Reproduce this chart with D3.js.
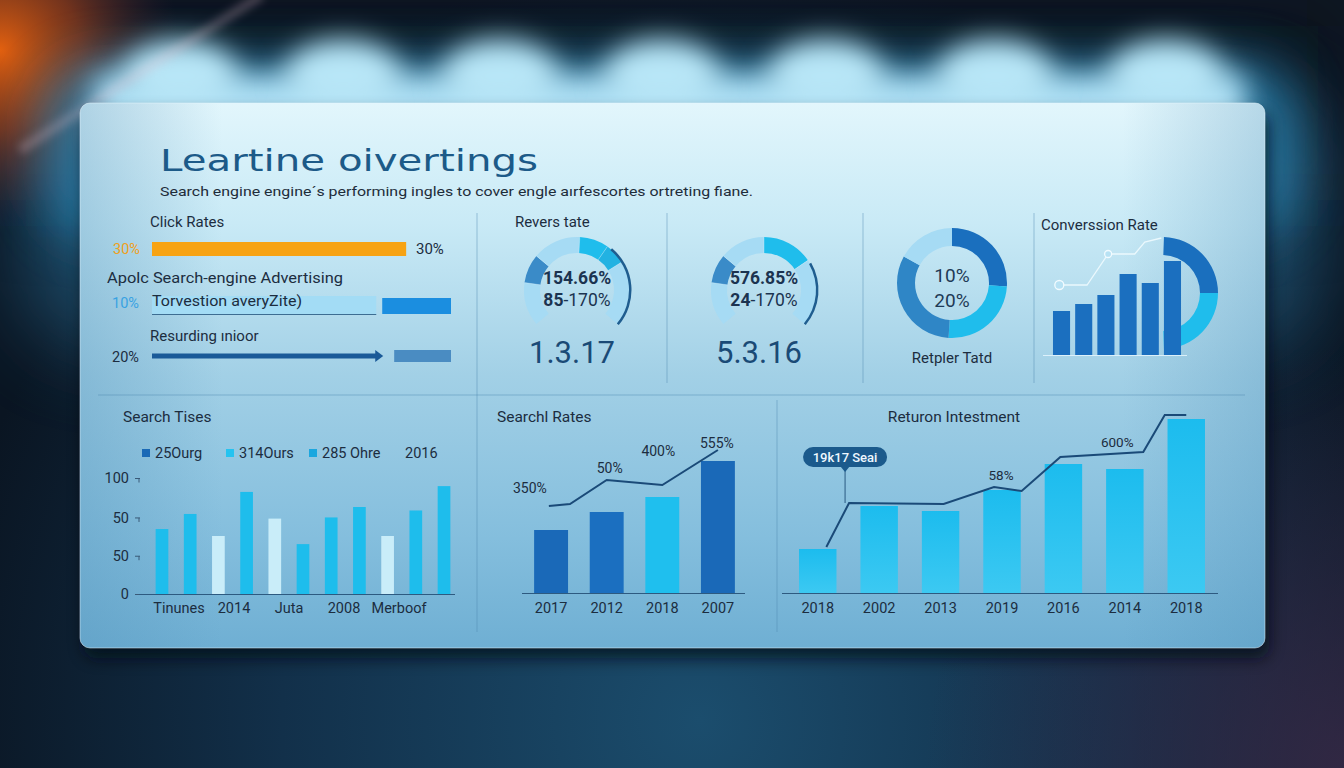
<!DOCTYPE html>
<html><head><meta charset="utf-8">
<script src="https://cdn.jsdelivr.net/npm/d3@7"></script>
<style>html,body{margin:0;padding:0;background:#0b1624;overflow:hidden}svg{display:block}</style>
</head><body>
<script>
// ---------------- DATA ----------------
const titleText = "Leartine oivertings";
const subtitleText = "Search engine engine´s performing ingles to cover engle aırfescortes ortreting fiane.";

// Click rates panel
const clickHeads = ["Click Rates", "Apolc Search-engine Advertising", "Resurding ınioor"];
const clickPctLeft = ["30%", "10%", "20%"];
const clickFill = [85, 75, 77];          // % of track filled by main bar
const clickBlockFrom = [null, 77, 81];   // % of track where the end block starts
const clickInner = "Torvestion averyZite)";
const clickPctRight = "30%";

// Gauges
const gaugeTitles = ["Revers tate", null];
const gaugeMain = ["154.66%", "576.85%"];
const gaugeLowBold = ["85", "24"];
const gaugeLowRest = ["-170%", "-170%"];
const gaugeBig = ["1.3.17", "5.3.16"];
const gauge1Breaks = [-130, -82, -50, 3, 35, 58, 130];
const gauge1Tones = ["light", "dark", "light", "cyan", "cyan2", "light"];
const gauge2Breaks = [-130, -82, -50, 0, 56, 130];
const gauge2Tones = ["light", "dark", "light", "cyan", "light"];

// Ring donut
const ringValues = [26, 25, 32, 17];
const ringTones = ["deep", "cyan", "mid", "light"];
const ringLabels = ["10%", "20%"];
const ringCaption = "Retpler Tatd";

// Conversion
const convTitle = "Converssion Rate";
const convBars = [44, 51, 60, 81, 72, 94];
const convLineX = [-0.1, 1.15, 2.1, 3.3, 3.75, 4.5];
const convLineY = [70, 70, 101, 101, 113, 117];
const convHalf = [50, 50];

// Search Tises
const stTitle = "Search Tises";
const stLegend = ["25Ourg", "314Ours", "285 Ohre", "2016"];
const stValues = [56, 69, 50, 88, 65, 43, 66, 75, 50, 72, 93];
const stTypes = ["c", "c", "p", "c", "p", "c", "c", "c", "p", "c", "c"];
const stTickVals = [0, 33, 66, 100];
const stTickLabels = ["0", "50", "50", "100"];
const stXLabels = ["Tinunes", "2014", "Juta", "2008", "Merboof"];

// Search Rates
const srTitle = "Searchl Rates";
const srCats = ["2017", "2012", "2018", "2007"];
const srValues = [63, 81, 96, 132];
const srTones = ["dark", "dark", "cyan", "dark"];
const srLineX = [-0.04, 0.34, 1, 2, 3];
const srLineY = [87, 89, 113, 108, 143];
const srLabels = ["350%", "50%", "400%", "555%"];

// Return on investment
const roiTitle = "Returon Intestment";
const roiCats = ["2018", "2002", "2013", "2019", "2016", "2014", "2018"];
const roiValues = [44, 87, 82, 103, 129, 124, 174];
const roiLineX = [0.14, 0.51, 2.05, 2.87, 3.32, 3.95, 5.3, 5.65, 6.0];
const roiLineY = [46, 90, 89, 106, 102, 136, 141, 178, 178];
const roiLabels = ["58%", "600%"];
const roiTip = "19k17 Seai";

// ---------------- DRAW ----------------
const W = 1344, H = 768;
const FONT = "Roboto, 'Liberation Sans', sans-serif";
const DARK = "#1c2d3f";
const COL = {light:"#a6dbf4", dark:"#3a8bc8", cyan:"#1fbdec", cyan2:"#22b2e2", deep:"#1a6fbe", mid:"#2f86c6"};

const svg = d3.select("body").append("svg").attr("width", W).attr("height", H);
const defs = svg.append("defs");

function lin(id, stops, x2 = 0, y2 = 1) {
  const g = defs.append("linearGradient").attr("id", id).attr("x1", 0).attr("y1", 0).attr("x2", x2).attr("y2", y2);
  stops.forEach(s => g.append("stop").attr("offset", s[0]).attr("stop-color", s[1]).attr("stop-opacity", s[2] == null ? 1 : s[2]));
}
function rad(id, cx, cy, r, stops) {
  const g = defs.append("radialGradient").attr("id", id).attr("gradientUnits", "userSpaceOnUse")
    .attr("cx", cx).attr("cy", cy).attr("r", r);
  stops.forEach(s => g.append("stop").attr("offset", s[0]).attr("stop-color", s[1]).attr("stop-opacity", s[2] == null ? 1 : s[2]));
}
function blur(id, sd) {
  defs.append("filter").attr("id", id).attr("x", "-50%").attr("y", "-50%").attr("width", "200%").attr("height", "200%")
    .append("feGaussianBlur").attr("stdDeviation", sd);
}
blur("b8", 8); blur("b14", 14); blur("b25", 25); blur("b40", 40); blur("b4", 4);

rad("bgRad", 700, 720, 760, [[0, "#1b4d6d"], [0.55, "#12304a"], [1, "#0a1522"]]);
rad("orange", 0, 50, 180, [[0, "#e2600f"], [0.45, "#8a3a1c", 0.8], [1, "#3a2030", 0]]);
rad("purple", 1344, 768, 420, [[0, "#3a2a48", 0.8], [1, "#3a2a48", 0]]);
lin("panelGrad", [[0, "#e2f6fc"], [0.22, "#c9eaf6"], [0.5, "#a2d0e6"], [0.8, "#84bedd"], [1, "#6fafd3"]]);
lin("panelSide", [[0, "#4f90b8", 0.35], [0.12, "#4f90b8", 0], [0.88, "#4f90b8", 0], [1, "#4f90b8", 0.3]], 1, 0);
lin("roiBar", [[0, "#1cbcee"], [1, "#3cc9f2"]]);

// background
svg.append("rect").attr("width", W).attr("height", H).attr("fill", "url(#bgRad)");
svg.append("rect").attr("width", W).attr("height", 200).attr("fill", "#08121d").attr("opacity", 0.55).attr("filter", "url(#b40)");
svg.append("rect").attr("width", W).attr("height", H).attr("fill", "url(#purple)");
// side halo around panel
svg.append("rect").attr("x", 20).attr("y", 90).attr("width", 1300).attr("height", 260).attr("rx", 80)
  .attr("fill", "#2c6f98").attr("opacity", 0.55).attr("filter", "url(#b40)");
svg.append("rect").attr("width", 400).attr("height", 260).attr("fill", "url(#orange)");
// glow behind panel top
const glow = svg.append("g");
glow.append("rect").attr("x", 40).attr("y", 60).attr("width", 1260).attr("height", 180).attr("rx", 60)
  .attr("fill", "#2a88b8").attr("opacity", 0.7).attr("filter", "url(#b25)");
glow.append("rect").attr("x", 95).attr("y", 75).attr("width", 1150).attr("height", 60)
  .attr("fill", "#aee0f5").attr("filter", "url(#b14)");
[180, 343, 500, 662, 826, 995, 1166].forEach(px => {
  glow.append("ellipse").attr("cx", px).attr("cy", 76).attr("rx", 58).attr("ry", 36)
    .attr("fill", "#b8e6f7").attr("filter", "url(#b14)");
});
svg.append("line").attr("x1", 262).attr("y1", -5).attr("x2", 20).attr("y2", 150)
  .attr("stroke", "#e6c2d2").attr("stroke-width", 9).attr("opacity", 0.28).attr("filter", "url(#b4)");

// panel
const P = {x: 80, y: 103, w: 1185, h: 545};
svg.append("rect").attr("x", P.x + 4).attr("y", P.y + 10).attr("width", P.w).attr("height", P.h)
  .attr("rx", 12).attr("fill", "#050c16").attr("opacity", 0.75).attr("filter", "url(#b8)");
svg.append("rect").attr("x", P.x).attr("y", P.y).attr("width", P.w).attr("height", P.h).attr("rx", 10).attr("fill", "url(#panelGrad)");
svg.append("rect").attr("x", P.x).attr("y", P.y).attr("width", P.w).attr("height", P.h).attr("rx", 10).attr("fill", "url(#panelSide)");
svg.append("rect").attr("x", P.x).attr("y", P.y).attr("width", P.w).attr("height", P.h).attr("rx", 10)
  .attr("fill", "none").attr("stroke", "#e8f8ff").attr("stroke-opacity", 0.5);

function txt(x, y, s, o = {}) {
  const t = svg.append("text").attr("x", x).attr("y", y).text(s)
    .attr("font-family", o.family || FONT).attr("font-size", o.size || 15)
    .attr("fill", o.fill || DARK).attr("text-anchor", o.anchor || "start")
    .attr("dominant-baseline", "central").attr("font-weight", o.weight || "normal");
  if (o.len) t.attr("textLength", o.len).attr("lengthAdjust", "spacingAndGlyphs");
  return t;
}

// title
txt(160, 160, titleText, {size: 30, fill: "#1c5a88", family: "'DejaVu Sans', sans-serif", len: 378});
txt(160, 191, subtitleText, {size: 13.5, fill: "#1e2c3a", len: 593});

// dividers
const divC = "#4e86ad", divO = 0.45;
[[477, 213, 477, 632], [667, 213, 667, 383], [863, 213, 863, 383], [1034, 213, 1034, 383], [777, 400, 777, 632], [98, 395, 1245, 395]]
  .forEach(d => svg.append("line").attr("x1", d[0]).attr("y1", d[1]).attr("x2", d[2]).attr("y2", d[3])
    .attr("stroke", divC).attr("stroke-opacity", divO).attr("stroke-width", 1));

// ---------- Click rates ----------
const trackX = d3.scaleLinear().domain([0, 100]).range([152, 451]);
txt(150, 222, clickHeads[0], {size: 15});
txt(113, 249, clickPctLeft[0], {size: 14.5, fill: "#f0a020"});
svg.append("rect").attr("x", trackX(0)).attr("y", 242).attr("width", trackX(clickFill[0]) - trackX(0)).attr("height", 14).attr("fill", "#f7a313");
txt(416, 249, clickPctRight, {size: 15});

txt(107, 278, clickHeads[1], {size: 15.5, len: 236});
txt(112, 303, clickPctLeft[1], {size: 14.5, fill: "#38a2e2"});
svg.append("rect").attr("x", trackX(0)).attr("y", 296).attr("width", trackX(clickFill[1]) - trackX(0)).attr("height", 18).attr("fill", "#a3dcf5");
svg.append("line").attr("x1", trackX(0)).attr("x2", trackX(clickFill[1])).attr("y1", 314.5).attr("y2", 314.5).attr("stroke", "#3d6d92").attr("stroke-width", 1);
svg.append("rect").attr("x", trackX(clickBlockFrom[1])).attr("y", 298).attr("width", trackX(100) - trackX(clickBlockFrom[1])).attr("height", 16).attr("fill", "#1b8ee0");
txt(152, 301, clickInner, {size: 15.5, len: 150});

txt(150, 336, clickHeads[2], {size: 15});
txt(112, 357, clickPctLeft[2], {size: 14.5});
svg.append("rect").attr("x", trackX(0)).attr("y", 353.5).attr("width", trackX(clickFill[2]) - trackX(0) - 6).attr("height", 5).attr("fill", "#1a5a98");
svg.append("path").attr("d", `M${trackX(clickFill[2]) - 7},350 L${trackX(clickFill[2]) + 1},356 L${trackX(clickFill[2]) - 7},362 Z`).attr("fill", "#1a5a98");
svg.append("rect").attr("x", trackX(clickBlockFrom[2])).attr("y", 350).attr("width", trackX(100) - trackX(clickBlockFrom[2])).attr("height", 12).attr("fill", "#4a8cc2");

// ---------- Gauges ----------
const toRad = d => d * Math.PI / 180;
function gauge(cx, cy, breaks, tones, strokeFrom, idx) {
  const g = svg.append("g").attr("transform", `translate(${cx},${cy})`);
  const arc = d3.arc().innerRadius(37).outerRadius(53);
  for (let i = 0; i < tones.length; i++) {
    g.append("path").attr("d", arc({startAngle: toRad(breaks[i]), endAngle: toRad(breaks[i + 1])})).attr("fill", COL[tones[i]]);
  }
  for (let i = 1; i < breaks.length - 1; i++) {
    const a = toRad(breaks[i]);
    g.append("line").attr("x1", Math.sin(a) * 37).attr("y1", -Math.cos(a) * 37).attr("x2", Math.sin(a) * 53).attr("y2", -Math.cos(a) * 53)
      .attr("stroke", "#d8f2fc").attr("stroke-opacity", 0.35).attr("stroke-width", 1);
  }
  const thin = d3.arc().innerRadius(52).outerRadius(54.5);
  g.append("path").attr("d", thin({startAngle: toRad(strokeFrom), endAngle: toRad(breaks[breaks.length - 1])})).attr("fill", "#1f5d8f");
  txt(cx, cy - 12, gaugeMain[idx], {size: 17.5, weight: "bold", fill: "#1b3350", anchor: "middle"});
  const t2 = svg.append("text").attr("x", cx).attr("y", cy + 10).attr("text-anchor", "middle").attr("dominant-baseline", "central")
    .attr("font-family", FONT).attr("font-size", 17.5).attr("fill", "#1b3350");
  t2.append("tspan").attr("font-weight", "bold").text(gaugeLowBold[idx]);
  t2.append("tspan").text(gaugeLowRest[idx]);
  txt(cx - 5, cy + 62, gaugeBig[idx], {size: 31, fill: "#1a4a76", anchor: "middle"});
}
txt(515, 222, gaugeTitles[0], {size: 15});
gauge(577, 290, gauge1Breaks, gauge1Tones, 40, 0);
gauge(764, 290, gauge2Breaks, gauge2Tones, 60, 1);

// ---------- Ring ----------
{
  const cx = 952, cy = 283;
  const pie = d3.pie().sort(null).value(d => d)(ringValues);
  const arc = d3.arc().innerRadius(37).outerRadius(55);
  const g = svg.append("g").attr("transform", `translate(${cx},${cy})`);
  g.selectAll("path").data(pie).join("path").attr("d", arc).attr("fill", (d, i) => COL[ringTones[i]]);
  txt(cx, cy - 8, ringLabels[0], {size: 19, fill: "#1e3a56", anchor: "middle"});
  txt(cx, cy + 17, ringLabels[1], {size: 19, fill: "#1e3a56", anchor: "middle"});
  txt(cx, 358, ringCaption, {size: 15, anchor: "middle"});
}

// ---------- Conversion ----------
{
  txt(1041, 225, convTitle, {size: 15});
  const x = d3.scaleBand().domain(d3.range(convBars.length)).range([1043, 1191]).paddingInner(0.23).paddingOuter(0.45);
  const y = d3.scaleLinear().domain([0, 100]).range([355, 255]);
  const xl = d3.scaleLinear().domain([0, 5]).range([x(0) + x.bandwidth() / 2, x(5) + x.bandwidth() / 2]);
  const hp = d3.pie().sort(null).value(d => d).startAngle(toRad(2)).endAngle(toRad(178))(convHalf);
  const ha = d3.arc().innerRadius(38).outerRadius(56);
  svg.append("g").attr("transform", "translate(1162,293)").selectAll("path").data(hp).join("path")
    .attr("d", ha).attr("fill", (d, i) => i === 0 ? "#1a6fbe" : "#1fbdec");
  const pts = convLineX.map((v, i) => [xl(v), y(convLineY[i])]);
  svg.append("path").attr("d", d3.line()(pts)).attr("fill", "none").attr("stroke", "#f2fbff").attr("stroke-opacity", 0.85).attr("stroke-width", 1.3);
  [0, 2].forEach(i => svg.append("circle").attr("cx", pts[i][0]).attr("cy", pts[i][1]).attr("r", i === 0 ? 4.5 : 3.5)
    .attr("fill", "#b8e2f4").attr("stroke", "#f2fbff").attr("stroke-width", 1.3));
  svg.selectAll(null).data(convBars).join("rect").attr("x", (d, i) => x(i)).attr("width", x.bandwidth())
    .attr("y", d => y(d)).attr("height", d => y(0) - y(d)).attr("fill", "#1b6fbf");
  svg.append("line").attr("x1", 1043).attr("x2", 1187).attr("y1", 355.5).attr("y2", 355.5).attr("stroke", "#eaf8ff").attr("stroke-opacity", 0.8);
}

// ---------- Search Tises ----------
{
  txt(123, 417, stTitle, {size: 15.5});
  const legCols = ["#1a69b6", "#25c3f0", "#1ba7df", null];
  const legTextX = [155, 239, 322, 405];
  stLegend.forEach((s, i) => {
    if (legCols[i]) svg.append("rect").attr("x", [142, 226, 309, 0][i]).attr("y", 449).attr("width", 8).attr("height", 8).attr("fill", legCols[i]);
    txt(legTextX[i], 453, s, {size: 14.5});
  });
  const x = d3.scaleBand().domain(d3.range(stValues.length)).range([150, 456]).paddingInner(0.55).paddingOuter(0.2);
  const y = d3.scaleLinear().domain([0, 100]).range([594, 478]);
  svg.selectAll(null).data(stValues).join("rect").attr("x", (d, i) => x(i)).attr("width", x.bandwidth())
    .attr("y", d => y(d)).attr("height", d => y(0) - y(d))
    .attr("fill", (d, i) => stTypes[i] === "p" ? "#c9edf9" : "#1ebdec");
  const ax = svg.append("g").attr("transform", "translate(140,0)")
    .call(d3.axisLeft(y).tickValues(stTickVals).tickFormat((d, i) => stTickLabels[i]).tickSize(5).tickPadding(6));
  ax.select(".domain").remove();
  ax.selectAll(".tick line").attr("stroke", "#3a5a78");
  ax.selectAll(".tick").filter(d => d > 0).append("line").attr("x1", -1).attr("x2", -1).attr("y1", 0).attr("y2", 4).attr("stroke", "#3a5a78");
  ax.selectAll(".tick text").attr("font-family", FONT).attr("font-size", 14.5).attr("fill", DARK);
  svg.append("line").attr("x1", 139).attr("x2", 455).attr("y1", 594.5).attr("y2", 594.5).attr("stroke", "#2d5a80").attr("stroke-width", 1.2);
  const xl = d3.scalePoint().domain(stXLabels).range([179, 399]);
  stXLabels.forEach(s => txt(xl(s), 608, s, {size: 14.5, anchor: "middle"}));
}

// ---------- Search Rates ----------
{
  txt(497, 417, srTitle, {size: 15.5});
  const x = d3.scaleBand().domain(d3.range(srCats.length)).range([523, 746]).paddingInner(0.39).paddingOuter(0.2);
  const y = d3.scaleLinear().domain([0, 150]).range([593, 443]);
  svg.selectAll(null).data(srValues).join("rect").attr("x", (d, i) => x(i)).attr("width", x.bandwidth())
    .attr("y", d => y(d)).attr("height", d => y(0) - y(d))
    .attr("fill", (d, i) => srTones[i] === "cyan" ? "#1fbfee" : (i === 1 ? "#1b6fc0" : "#1a69b8"));
  svg.append("line").attr("x1", 522).attr("x2", 745).attr("y1", 593.5).attr("y2", 593.5).attr("stroke", "#2d5a80").attr("stroke-width", 1.2);
  const xl = d3.scaleLinear().domain([0, 3]).range([x(0) + x.bandwidth() / 2, x(3) + x.bandwidth() / 2]);
  const pts = srLineX.map((v, i) => [xl(v), y(srLineY[i])]);
  svg.append("path").attr("d", d3.line()(pts)).attr("fill", "none").attr("stroke", "#1a4a78").attr("stroke-width", 2);
  const off = [[-19, -18], [3, -12], [-4, -34], [-1, -7]];
  const anchorPts = [0, 2, 3, 4];
  srLabels.forEach((s, i) => txt(pts[anchorPts[i]][0] + off[i][0], pts[anchorPts[i]][1] + off[i][1], s, {size: 14, anchor: "middle"}));
  srCats.forEach((s, i) => txt(x(i) + x.bandwidth() / 2, 608, s, {size: 14.5, anchor: "middle"}));
}

// ---------- Return on investment ----------
{
  txt(954, 417, roiTitle, {size: 15.5, anchor: "middle"});
  const x = d3.scaleBand().domain(d3.range(roiCats.length)).range([782, 1222]).paddingInner(0.39).paddingOuter(0.277);
  const y = d3.scaleLinear().domain([0, 200]).range([593, 393]);
  svg.selectAll(null).data(roiValues).join("rect").attr("x", (d, i) => x(i)).attr("width", x.bandwidth())
    .attr("y", d => y(d)).attr("height", d => y(0) - y(d)).attr("fill", "url(#roiBar)");
  svg.append("line").attr("x1", 782).attr("x2", 1218).attr("y1", 593.5).attr("y2", 593.5).attr("stroke", "#2d5a80").attr("stroke-width", 1.2);
  const xl = d3.scaleLinear().domain([0, 6]).range([x(0) + x.bandwidth() / 2, x(6) + x.bandwidth() / 2]);
  const pts = roiLineX.map((v, i) => [xl(v), y(roiLineY[i])]);
  svg.append("path").attr("d", d3.line()(pts)).attr("fill", "none").attr("stroke", "#1a4a78").attr("stroke-width", 2);
  txt(pts[3][0] + 7, pts[3][1] - 12, roiLabels[0], {size: 13.5, anchor: "middle"});
  txt(pts[6][0] - 26, pts[6][1] - 10, roiLabels[1], {size: 13.5, anchor: "middle"});
  roiCats.forEach((s, i) => txt(x(i) + x.bandwidth() / 2, 608, s, {size: 14.5, anchor: "middle"}));
  const tx = pts[1][0] - 4;
  svg.append("line").attr("x1", tx).attr("x2", tx).attr("y1", 468).attr("y2", pts[1][1]).attr("stroke", "#2a5a82").attr("stroke-width", 1);
  svg.append("rect").attr("x", tx - 42).attr("y", 447).attr("width", 84).attr("height", 20).attr("rx", 10).attr("fill", "#1b5a8c");
  svg.append("path").attr("d", `M${tx - 5},466 L${tx},472 L${tx + 5},466 Z`).attr("fill", "#1b5a8c");
  txt(tx, 457, roiTip, {size: 13, fill: "#eef8ff", anchor: "middle", weight: "500"});
}
</script>
</body></html>
